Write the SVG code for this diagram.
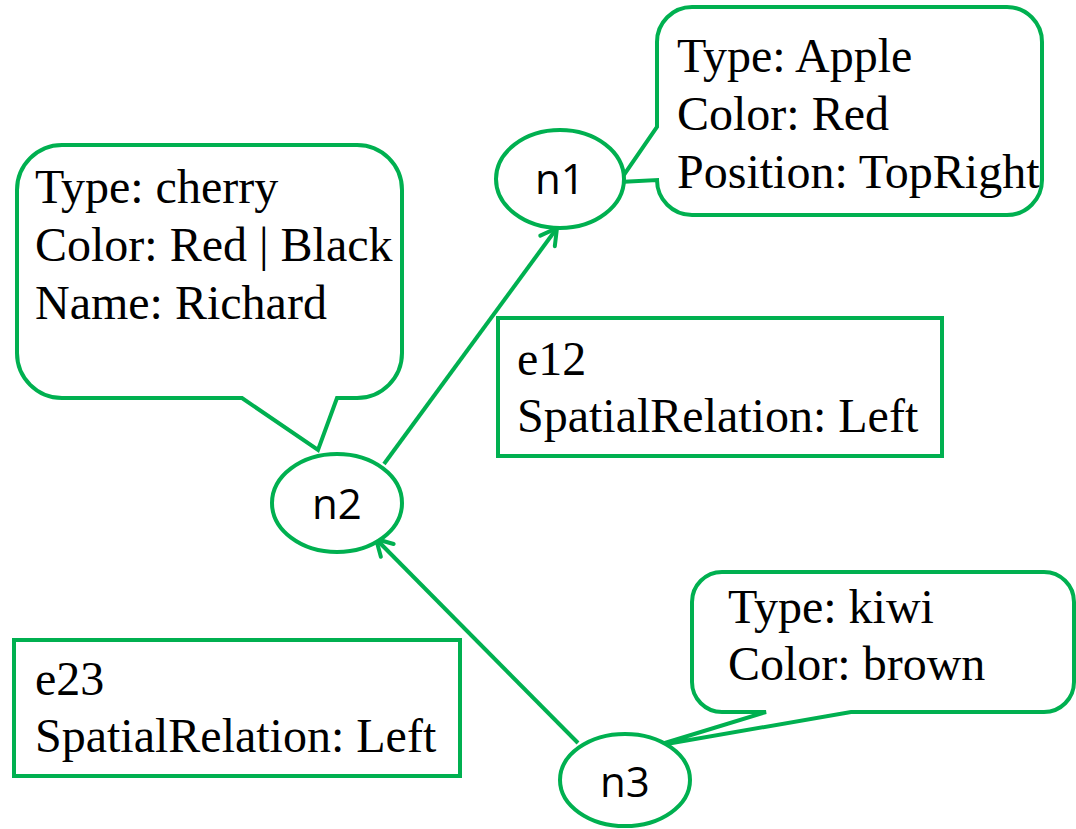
<svg xmlns="http://www.w3.org/2000/svg" width="1076" height="829" viewBox="0 0 1076 829">
<style>
.shape{fill:#ffffff;stroke:#00B050;stroke-width:4;stroke-linejoin:miter}
.conn{fill:none;stroke:#00B050;stroke-width:4}
.t{font-family:"Liberation Serif","Times New Roman",serif;font-size:48px;fill:#000000}
.n{font-family:"Open Sans","Liberation Sans",sans-serif;font-size:42px;fill:#000000;text-anchor:middle}
</style>
<defs>
<marker id="arr" viewBox="-20 -12 24 24" refX="0" refY="0" markerWidth="24" markerHeight="24" markerUnits="userSpaceOnUse" orient="auto">
<path d="M -16 -9 L 0 0 L -16 9" fill="none" stroke="#00B050" stroke-width="4" stroke-linecap="round"/>
</marker>
</defs>
<rect width="1076" height="829" fill="#ffffff"/>
<g id="connectors">
<line class="conn" x1="384" y1="464" x2="557" y2="228" marker-end="url(#arr)"/>
<line class="conn" x1="578" y1="743" x2="376" y2="539" marker-end="url(#arr)"/>
</g>
<g id="e12">
<rect class="shape" x="498" y="318" width="444" height="138"/>
<text class="t" x="517" y="375">e12</text>
<text class="t" x="517" y="432">SpatialRelation: Left</text>
</g>
<g id="e23">
<rect class="shape" x="14" y="640" width="446" height="136"/>
<text class="t" x="35" y="695">e23</text>
<text class="t" x="35" y="752">SpatialRelation: Left</text>
</g>
<g id="callout-n2">
<path class="shape" d="M 62 145 H 357 A 45 45 0 0 1 402 190 V 353 A 45 45 0 0 1 357 398 H 337 L 318 450 L 242 398 H 62 A 45 45 0 0 1 17 353 V 190 A 45 45 0 0 1 62 145 Z"/>
<text class="t" x="35" y="203">Type: cherry</text>
<text class="t" x="35" y="261">Color: Red | Black</text>
<text class="t" x="35" y="319">Name: Richard</text>
</g>
<g id="callout-n1">
<path class="shape" d="M 692 7 H 1007 A 35 35 0 0 1 1042 42 V 180 A 35 35 0 0 1 1007 215 H 692 A 35 35 0 0 1 657 180 L 619 182 L 657 127 V 42 A 35 35 0 0 1 692 7 Z"/>
<text class="t" x="677" y="72">Type: Apple</text>
<text class="t" x="677" y="130">Color: Red</text>
<text class="t" x="677" y="188">Position: TopRight</text>
</g>
<g id="callout-n3">
<path class="shape" d="M 722 572 H 1044 A 30 30 0 0 1 1074 602 V 682 A 30 30 0 0 1 1044 712 H 851 L 655 746 L 766 712 H 722 A 30 30 0 0 1 692 682 V 602 A 30 30 0 0 1 722 572 Z"/>
<text class="t" x="728" y="623">Type: kiwi</text>
<text class="t" x="728" y="680">Color: brown</text>
</g>
<g id="n1">
<ellipse class="shape" cx="560" cy="179" rx="64" ry="49"/>
<text class="n" x="560" y="194">n1</text>
</g>
<g id="n2">
<ellipse class="shape" cx="337" cy="503" rx="65" ry="49"/>
<text class="n" x="337" y="519">n2</text>
</g>
<g id="n3">
<ellipse class="shape" cx="625" cy="780" rx="65" ry="46"/>
<text class="n" x="625" y="797">n3</text>
</g>
</svg>
